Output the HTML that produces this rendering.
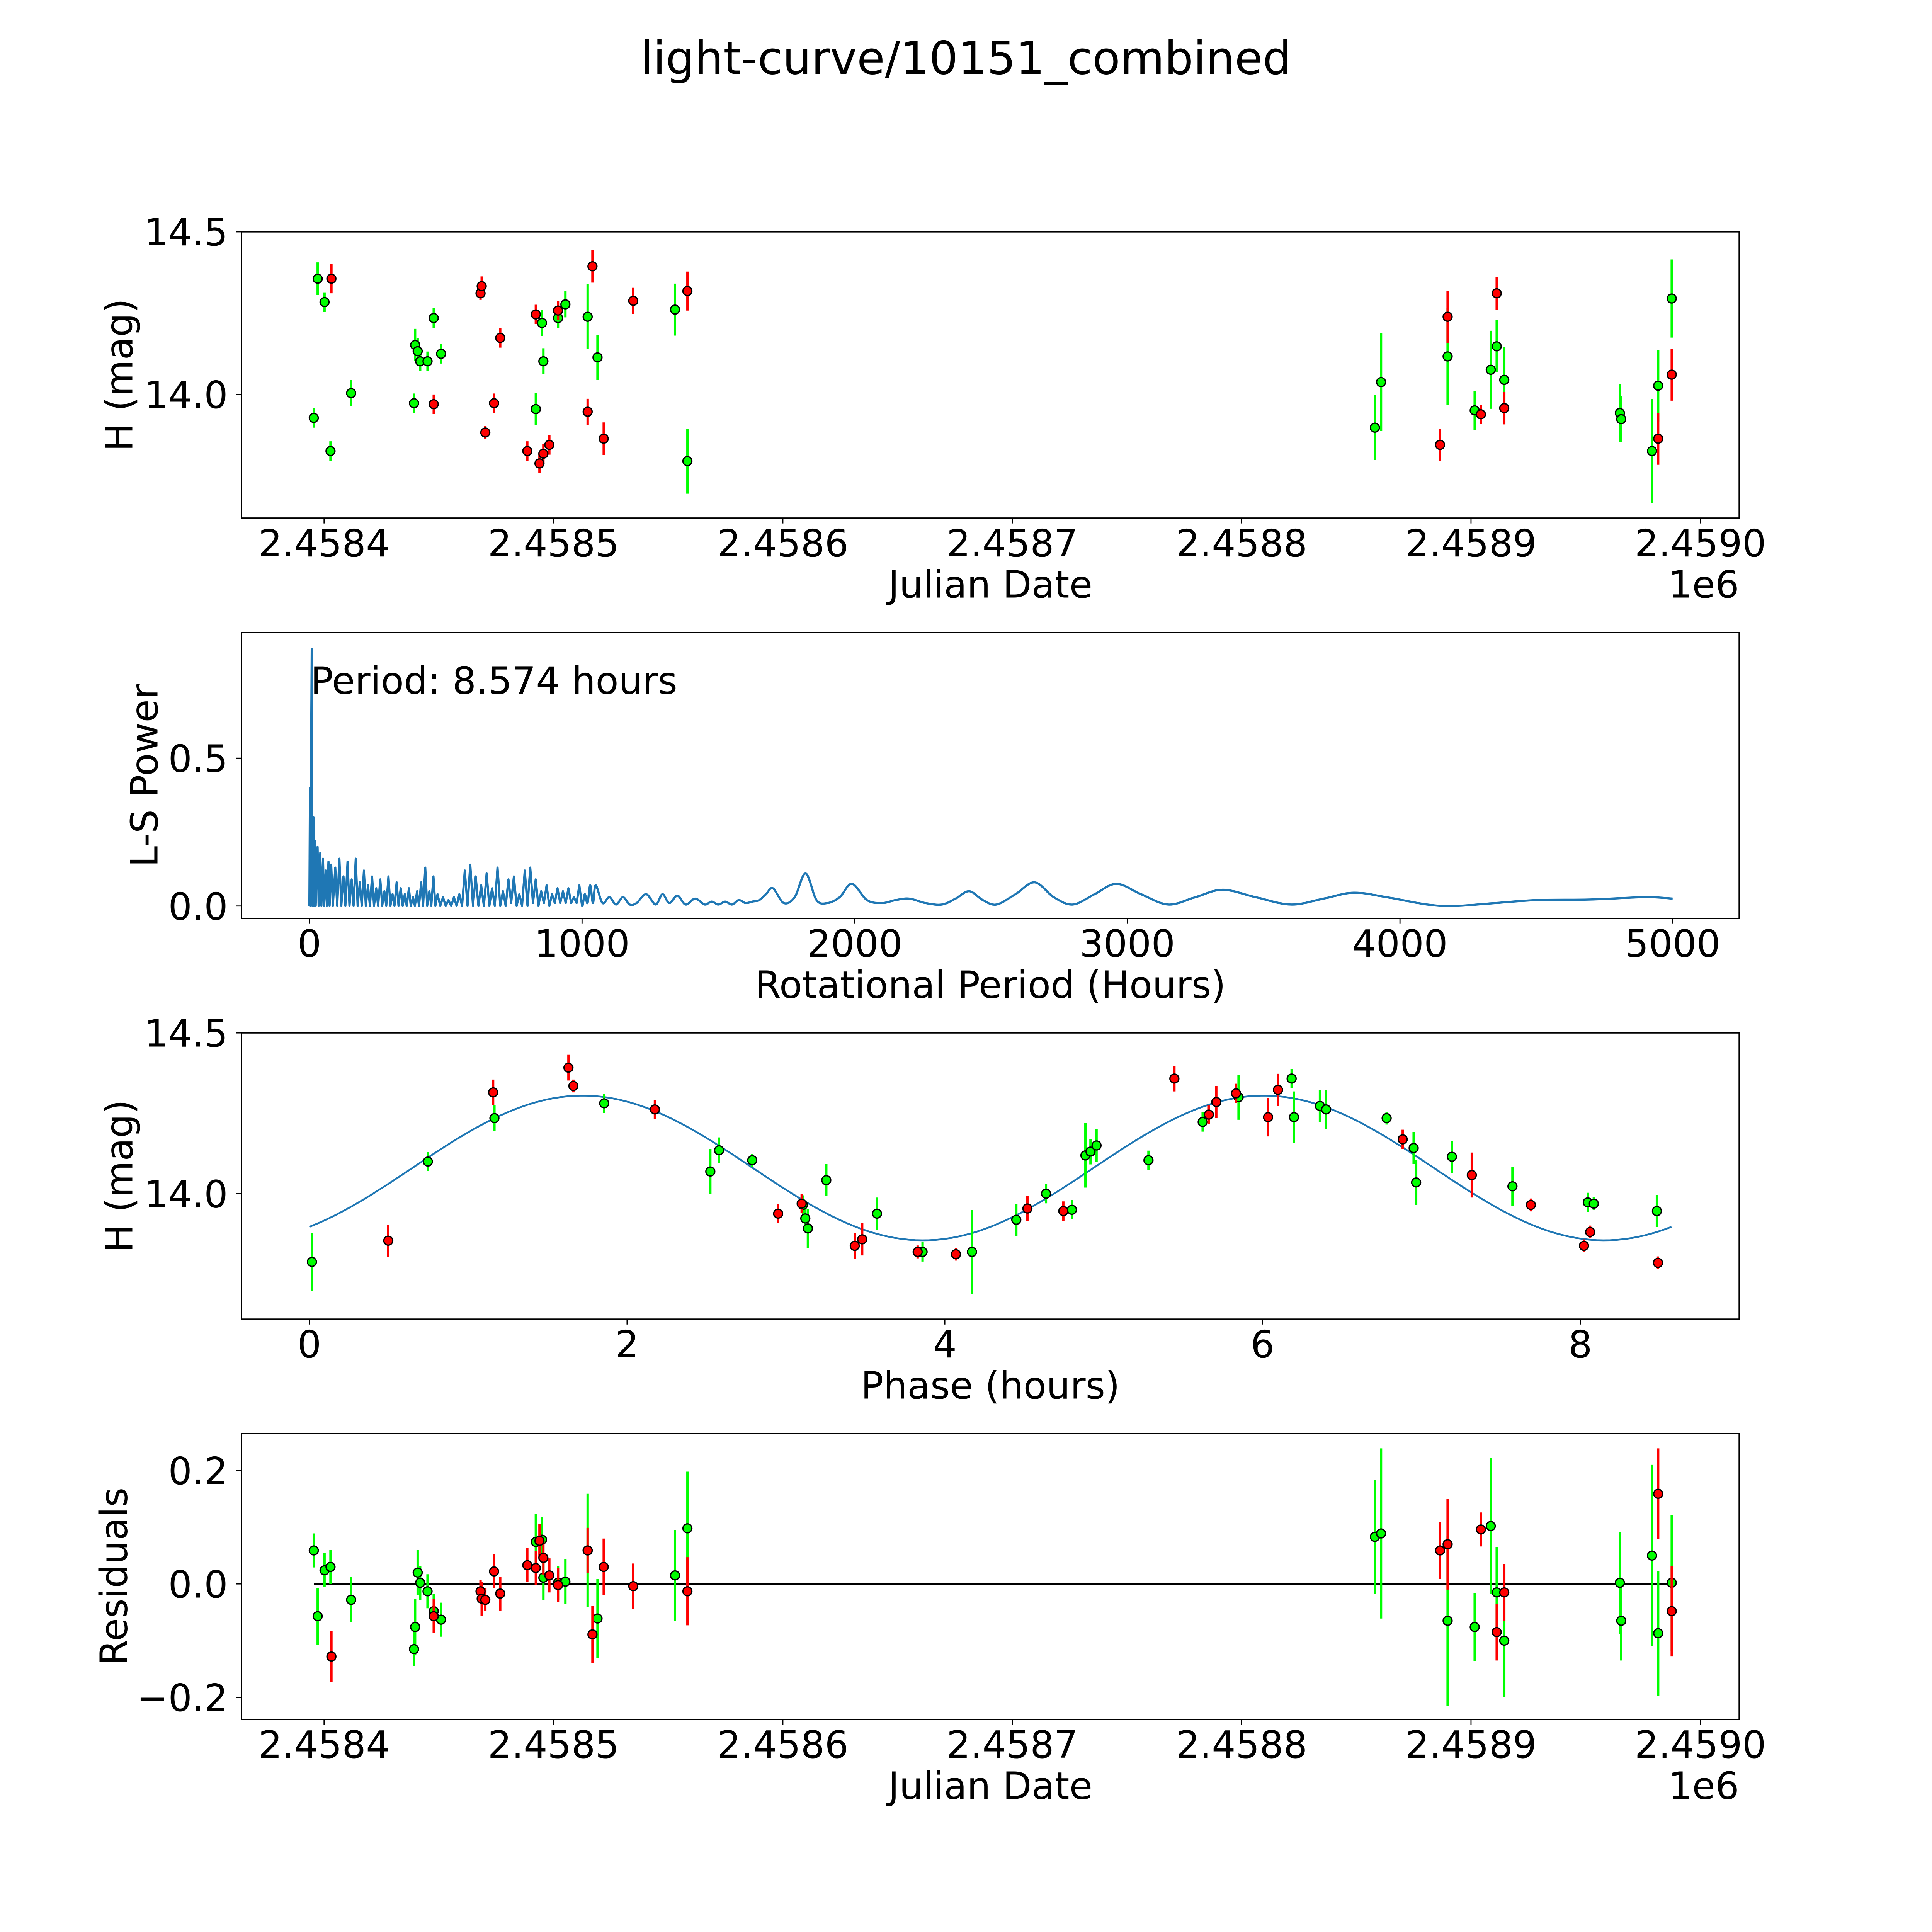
<!DOCTYPE html>
<html><head><meta charset="utf-8"><style>
html,body{margin:0;padding:0;background:#fff;overflow:hidden}
svg{display:block;width:100vw;height:100vh}
text{font-family:"DejaVu Sans","Liberation Sans",sans-serif;fill:#000}
</style></head><body>
<svg id="fig" viewBox="0 0 5400 5400" preserveAspectRatio="none" xmlns="http://www.w3.org/2000/svg">
<rect width="5400" height="5400" fill="#fff"/>
<text x="2700" y="207" font-size="127" text-anchor="middle">light-curve/10151_combined</text>
<text x="868" y="1939" font-size="105">Period: 8.574 hours</text>
</svg>
<script>
// ---- Data (JD offsets from 2458400) ----
const greenJD=[-4.5,-2.8,0.2,2.8,11.8,39.2,39.7,40.8,41.9,45.1,47.8,51.0,92.3,95.0,95.6,102.0,105.2,114.9,119.2,153.0,158.4,458.1,460.8,489.8,501.6,508.6,511.2,514.5,564.9,565.5,578.9,581.6,587.5];
const greenMag=[13.928,14.356,14.284,13.826,14.004,13.973,14.152,14.133,14.102,14.102,14.235,14.125,13.955,14.220,14.102,14.235,14.277,14.239,14.114,14.261,13.795,13.898,14.038,14.117,13.951,14.076,14.148,14.045,13.943,13.924,13.826,14.027,14.295];
const greenErr=[0.03,0.05,0.03,0.03,0.04,0.03,0.05,0.04,0.03,0.03,0.03,0.03,0.05,0.04,0.04,0.03,0.04,0.1,0.07,0.08,0.1,0.1,0.15,0.15,0.06,0.12,0.08,0.1,0.09,0.07,0.16,0.11,0.12];
const redJD=[3.2,68.2,68.7,70.3,74.1,76.8,47.8,88.6,92.3,93.9,95.6,98.2,102.0,114.9,117.0,121.9,134.8,158.4,486.5,489.8,504.3,511.2,514.5,581.6,587.5];
const redMag=[14.356,14.311,14.333,13.883,13.973,14.174,13.970,13.826,14.246,13.788,13.818,13.845,14.258,13.947,14.394,13.864,14.288,14.318,13.845,14.239,13.939,14.311,13.958,13.864,14.061];
const redErr=[0.045,0.02,0.03,0.02,0.03,0.03,0.03,0.03,0.03,0.03,0.03,0.03,0.03,0.04,0.05,0.05,0.04,0.06,0.05,0.08,0.03,0.05,0.05,0.08,0.08];
const greenRes=[0.059,-0.057,0.024,0.030,-0.028,-0.115,-0.076,0.020,0.002,-0.013,-0.048,-0.063,0.074,0.078,0.011,0.002,0.004,0.059,-0.061,0.015,0.098,0.083,0.089,-0.065,-0.076,0.102,-0.015,-0.1,0.002,-0.065,0.05,-0.087,0.002];
const redRes=[-0.128,-0.013,-0.026,-0.028,0.022,-0.017,-0.057,0.033,0.028,0.076,0.046,0.015,-0.002,0.059,-0.089,0.030,-0.004,-0.013,0.059,0.070,0.096,-0.085,-0.015,0.159,-0.048];
// phase-folded
const greenPhase=[0.016,0.746,1.165,1.856,2.524,2.579,2.788,3.107,3.122,3.138,3.254,3.573,3.86,4.171,4.45,4.637,4.8,4.885,4.917,4.955,5.282,5.623,5.849,6.183,6.198,6.361,6.4,6.781,6.951,6.967,7.192,7.573,8.047,8.085,8.482];
const greenPMag=[13.788,14.1,14.235,14.281,14.069,14.135,14.104,13.965,13.923,13.892,14.042,13.938,13.819,13.819,13.919,14.0,13.95,14.119,14.131,14.15,14.104,14.223,14.3,14.358,14.238,14.273,14.262,14.235,14.142,14.035,14.115,14.023,13.973,13.969,13.946];
const greenPErr=[0.09,0.03,0.04,0.03,0.07,0.04,0.02,0.03,0.04,0.06,0.05,0.05,0.03,0.13,0.05,0.03,0.03,0.1,0.04,0.05,0.03,0.03,0.07,0.03,0.08,0.05,0.06,0.02,0.05,0.07,0.05,0.06,0.03,0.02,0.05];
const redPhase=[0.497,1.157,1.631,1.662,2.175,2.951,3.099,3.433,3.48,3.829,4.07,4.52,4.746,5.445,5.662,5.709,5.833,6.035,6.097,6.882,7.317,7.689,8.023,8.062,8.489];
const redPMag=[13.854,14.315,14.392,14.335,14.262,13.938,13.969,13.838,13.858,13.819,13.812,13.954,13.946,14.358,14.246,14.285,14.312,14.238,14.323,14.169,14.058,13.965,13.838,13.881,13.785];
const redPErr=[0.05,0.04,0.04,0.02,0.03,0.03,0.03,0.04,0.05,0.02,0.02,0.04,0.03,0.04,0.03,0.05,0.03,0.06,0.05,0.03,0.07,0.02,0.02,0.02,0.02];
// fit model coefficients
const fitMean=[14.08];
const fitAmp=[0.225];
const fitPeak=[1.72];
const fitHarm=[4.287];
const fitRange=[0,8.574];
// Lomb-Scargle periodogram (hours, power)
const lsPeriod=[0,2,3,5,8.6,11,15,17,20,23,
30,34,40,44,50,54,60,64,70,74,
80,86,95,102,110,117,125,132,140,147,
155,162,170,177,185,192,200,207,215,222,
230,237,245,252,260,267,275,282,290,297,
305,312,320,327,335,342,350,357,365,372,
380,387,395,402,410,417,425,432,440,447,
455,462,470,480,490,500,510,520,530,540,
550,560,570,580,590,600,610,620,630,640,
650,660,670,680,690,700,710,720,730,740,
750,760,770,780,790,800,810,820,830,840,
850,860,870,880,890,900,910,920,930,940,
950,960,970,980,990,1000,1010,1020,1030,1040,
1050,1075,1100,1125,1150,1175,1200,1235,1270,1295,
1320,1350,1380,1415,1450,1475,1500,1525,1550,1575,
1600,1625,1650,1675,1700,1740,1780,1820,1860,1900,
1945,1990,2045,2100,2150,2200,2260,2320,2370,2420,
2470,2520,2590,2660,2730,2800,2880,2960,3050,3150,
3250,3350,3470,3600,3720,3830,3950,4100,4200,4350,
4500,4700,4900,5000];
const lsPower=[0,0.4,0,0.3,0.87,0,0.3,0,0.22,0,
0.2,0,0.18,0,0.16,0,0.12,0,0.15,0,
0.14,0,0.13,0,0.16,0,0.10,0,0.15,0,
0.09,0,0.16,0,0.08,0,0.12,0,0.07,0,
0.10,0,0.06,0,0.09,0,0.05,0,0.10,0,
0.04,0,0.08,0,0.06,0,0.04,0,0.06,0,
0.03,0,0.05,0,0.08,0,0.13,0,0.05,0,
0.10,0,0.04,0,0.03,0,0.02,0,0.03,0,
0.04,0,0.12,0,0.14,0,0.10,0,0.07,0,
0.11,0,0.06,0,0.13,0,0.05,0,0.09,0.01,
0.10,0,0.04,0,0.12,0,0.13,0.01,0.09,0,
0.05,0.01,0.07,0,0.04,0.01,0.06,0.01,0.05,0.01,
0.06,0.01,0.03,0.01,0.07,0,0.04,0.01,0.07,0.01,
0.07,0.01,0.03,0.005,0.03,0.005,0.01,0.04,0.005,0.04,
0.01,0.035,0.005,0.025,0.005,0.015,0.005,0.015,0.005,0.02,
0.01,0.015,0.02,0.04,0.06,0.01,0.03,0.11,0.02,0.01,
0.03,0.075,0.02,0.01,0.02,0.025,0.01,0.005,0.025,0.05,
0.02,0.005,0.04,0.08,0.03,0.005,0.04,0.075,0.04,0.005,
0.03,0.055,0.03,0.005,0.025,0.045,0.03,0.005,0.0,0.01,
0.02,0.022,0.03,0.025];

// ---- Drawing helpers ----
const NS="http://www.w3.org/2000/svg";
const svg=document.getElementById('fig');
function el(tag,attrs,parent){const e=document.createElementNS(NS,tag);for(const k in attrs)e.setAttribute(k,attrs[k]);(parent||svg).appendChild(e);return e;}
const L=675,R=4861;
function mkAxis(top,bottom,x0,x1,y0,y1){return{top,bottom,sx:v=>L+(v-x0)/(x1-x0)*(R-L),sy:v=>bottom-(v-y0)/(y1-y0)*(bottom-top)};}
const A1=mkAxis(648,1448,-36,616.9,13.62,14.5);
const A2=mkAxis(1768,2567,-249,5244,-0.042,0.925);
const A3=mkAxis(2887,3687,-0.427,9.0,13.61,14.5);
const A4=mkAxis(4007,4806,-36,616.9,-0.239,0.265);
const FS=105;
function frame(a,name,xt,xtl,yt,ytl,xlabel,ylabel,ylx,extra){
  const g=el('g',{});
  
  
  xt.forEach((v,i)=>{const x=a.sx(v);
    const t=el('line',{x1:x,x2:x,y1:a.bottom,y2:a.bottom+15,stroke:'#000','stroke-width':3},g);
    
    
    const tx=el('text',{x:x,y:a.bottom+107,'font-size':FS,'text-anchor':'middle'},g);tx.textContent=xtl[i];
    
    
  });
  yt.forEach((v,i)=>{const y=a.sy(v);
    const t=el('line',{x1:L-15,x2:L,y1:y,y2:y,stroke:'#000','stroke-width':3},g);
    
    
    const tx=el('text',{x:637,y:y+38,'font-size':FS,'text-anchor':'end'},g);tx.textContent=ytl[i];
    
    
  });
  const xl=el('text',{x:(L+R)/2,y:a.bottom+222,'font-size':FS,'text-anchor':'middle'},g);xl.textContent=xlabel;
  
  
  const cy=(a.top+a.bottom)/2;
  const yl=el('text',{x:ylx,y:cy,'font-size':FS,'text-anchor':'middle',transform:`rotate(-90 ${ylx} ${cy})`},g);yl.textContent=ylabel;
  
  
  if(extra){const o=el('text',{x:R,y:a.bottom+222,'font-size':FS,'text-anchor':'end'},g);o.textContent=extra;
    
    }
  return g;
}
function border(a){const r=el('rect',{x:L,y:a.top,width:R-L,height:a.bottom-a.top,fill:'none',stroke:'#000','stroke-width':3.5});
  
  }
function series(a,xs,ys,es,color,name){
  const g=el('g',{});
  
  
  xs.forEach((x,i)=>{const px=a.sx(x);
    const l=el('line',{x1:px,x2:px,y1:a.sy(ys[i]-es[i]),y2:a.sy(ys[i]+es[i]),stroke:color,'stroke-width':6.5},g);
    
    });
  xs.forEach((x,i)=>{
    const c=el('circle',{cx:a.sx(x),cy:a.sy(ys[i]),r:12.5,fill:color,stroke:'#000','stroke-width':3.5},g);
    
    });
}
const jdT=[0,100,200,300,400,500,600];
const jdTL=['2.4584','2.4585','2.4586','2.4587','2.4588','2.4589','2.4590'];
// Panel 1
frame(A1,'light-curve-panel',jdT,jdTL,[14.0,14.5],['14.0','14.5'],'Julian Date','H (mag)',370,'1e6');
series(A1,greenJD,greenMag,greenErr,'#00ff00','green-series');
series(A1,redJD,redMag,redErr,'#ff0000','red-series');
border(A1);
// Panel 2
frame(A2,'periodogram-panel',[0,1000,2000,3000,4000,5000],['0','1000','2000','3000','4000','5000'],[0,0.5],['0.0','0.5'],'Rotational Period (Hours)','L-S Power',440);
const pts=lsPeriod.map((p,i)=>[A2.sx(p),A2.sy(lsPower[i])]);
let d='M'+pts[0][0]+','+pts[0][1];
for(let i=0;i<pts.length-1;i++){
  const p0=pts[Math.max(0,i-1)],p1=pts[i],p2=pts[i+1],p3=pts[Math.min(pts.length-1,i+2)];
  if(lsPeriod[i]<1000){d+=' L'+p2[0]+','+p2[1];continue;}
  const c1=[p1[0]+(p2[0]-p0[0])/6,p1[1]+(p2[1]-p0[1])/6],c2=[p2[0]-(p3[0]-p1[0])/6,p2[1]-(p3[1]-p1[1])/6];
  d+=` C${c1[0]},${c1[1]} ${c2[0]},${c2[1]} ${p2[0]},${p2[1]}`;
}
const lsp=el('path',{d:d,fill:'none',stroke:'#1f77b4','stroke-width':6,'stroke-linejoin':'round'});


border(A2);
// Panel 3
frame(A3,'phase-panel',[0,2,4,6,8],['0','2','4','6','8'],[14.0,14.5],['14.0','14.5'],'Phase (hours)','H (mag)',370);
const fp=[];for(let k=0;k<=200;k++){const t=fitRange[0]+(fitRange[1]-fitRange[0])*k/200;fp.push(A3.sx(t)+','+A3.sy(fitMean[0]+fitAmp[0]*Math.cos(2*Math.PI*(t-fitPeak[0])/fitHarm[0])));}
const fl=el('polyline',{points:fp.join(' '),fill:'none',stroke:'#1f77b4','stroke-width':5});


series(A3,greenPhase,greenPMag,greenPErr,'#00ff00','green-phase-series');
series(A3,redPhase,redPMag,redPErr,'#ff0000','red-phase-series');
border(A3);
// Panel 4
frame(A4,'residuals-panel',jdT,jdTL,[-0.2,0,0.2],['\u22120.2','0.0','0.2'],'Julian Date','Residuals',355,'1e6');
const zl=el('line',{x1:A4.sx(Math.min(...greenJD,...redJD)),x2:A4.sx(Math.max(...greenJD,...redJD)),y1:A4.sy(0),y2:A4.sy(0),stroke:'#000','stroke-width':5});


series(A4,greenJD,greenRes,greenErr,'#00ff00','green-residuals');
series(A4,redJD,redRes,redErr,'#ff0000','red-residuals');
border(A4);
</script>
</body></html>
